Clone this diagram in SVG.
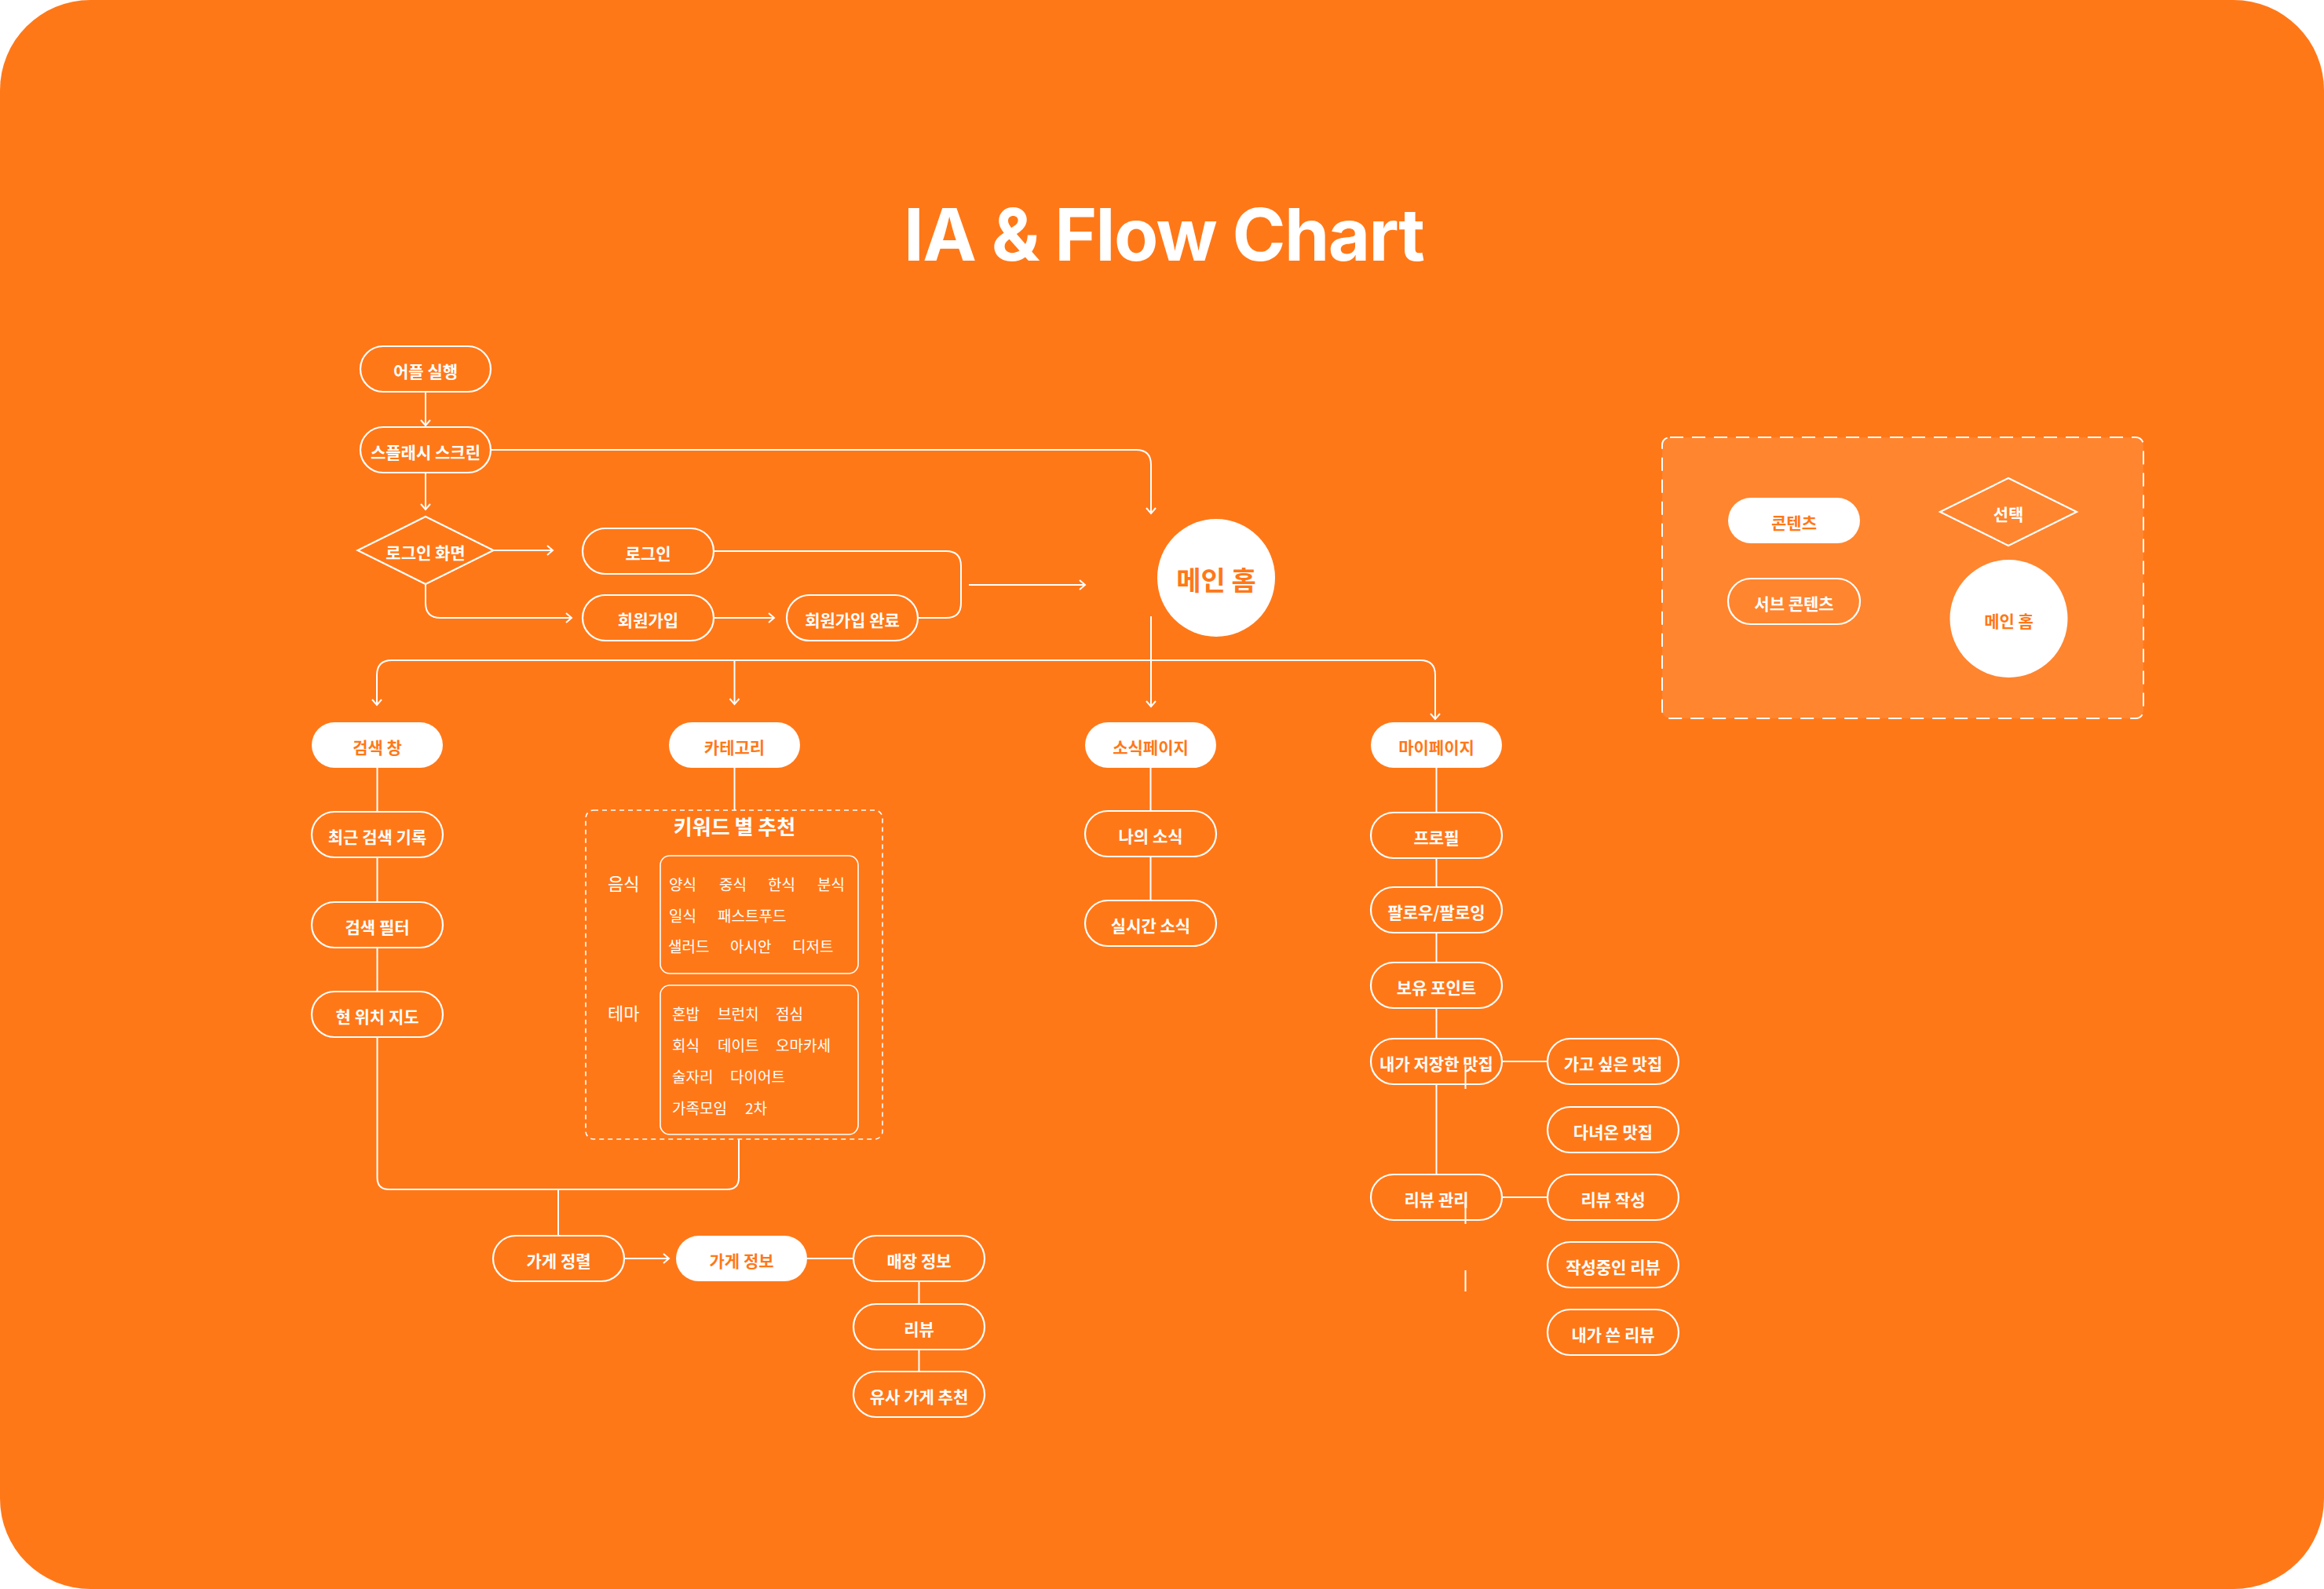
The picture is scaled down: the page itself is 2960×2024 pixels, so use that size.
<svg xmlns="http://www.w3.org/2000/svg" width="2960" height="2024" viewBox="0 0 2960 2024">
<defs>
<marker id="arr" markerUnits="userSpaceOnUse" markerWidth="20" markerHeight="20" viewBox="-10 -10 20 20" refX="0" refY="0" orient="auto">
<path d="M-7,-6 L0,0 L-7,6" fill="none" stroke="#fff" stroke-width="2"/>
</marker>
</defs>
<style>
.bg{fill:#FF7818}
.n{fill:none;stroke:#fff;stroke-width:2.2}
.f{fill:#fff;stroke:none}
.c{fill:none;stroke:#fff;stroke-width:2}
.t{font-family:"Noto Sans CJK KR","Noto Sans",sans-serif;font-weight:700;font-size:21px;fill:#fff;text-anchor:middle;dominant-baseline:central;transform:translateY(2px)}
.to{fill:#FF7818}
.k{font-family:"Noto Sans CJK KR","Noto Sans",sans-serif;font-weight:400;font-size:19px;fill:#fff;dominant-baseline:central}
.kl{font-size:22px}
</style>
<rect width="2960" height="2024" fill="#fff"/>
<rect class="bg" x="0" y="0" width="2960" height="2024" rx="115"/>
<text x="1483" y="332" font-family="Inter,'Liberation Sans',sans-serif" font-weight="700" font-size="92" fill="#fff" text-anchor="middle" textLength="664" lengthAdjust="spacing">IA &amp; Flow Chart</text>

<g id="connectors">
<path class="c" d="M542,499 V542" marker-end="url(#arr)"/>
<path class="c" d="M626,573 H1447 Q1466,573 1466,592 V654" marker-end="url(#arr)"/>
<path class="c" d="M542,602 V649" marker-end="url(#arr)"/>
<path class="c" d="M628.5,701 H704" marker-end="url(#arr)"/>
<path class="c" d="M542,744 V768 Q542,787 561,787 H728" marker-end="url(#arr)"/>
<path class="c" d="M909,787 H986" marker-end="url(#arr)"/>
<path class="c" d="M909,702 H1205 Q1224,702 1224,721 V768 Q1224,787 1205,787 H1169"/>
<path class="c" d="M1234,745 H1382" marker-end="url(#arr)"/>
<path class="c" d="M1466,785 V900" marker-end="url(#arr)"/>
<path class="c" d="M936,841 H499 Q480,841 480,860 V898" marker-end="url(#arr)"/>
<path class="c" d="M935.5,841 V897" marker-end="url(#arr)"/>
<path class="c" d="M935,841 H1809 Q1828,841 1828,860 V916" marker-end="url(#arr)"/>
<path class="c" d="M480.5,978 V1034 M480.5,1092 V1149 M480.5,1207 V1263"/>
<path class="c" d="M480.5,1321 V1500 Q480.5,1515 495.5,1515 H926 Q941,1515 941,1500 V1451"/>
<path class="c" d="M935.5,978 V1032"/>
<path class="c" d="M711,1515 V1574"/>
<path class="c" d="M795,1603 H852" marker-end="url(#arr)"/>
<path class="c" d="M1028,1603 H1087"/>
<path class="c" d="M1170.5,1632 V1661 M1170.5,1719 V1747"/>
<path class="c" d="M1465.5,978 V1033 M1465.5,1091 V1147"/>
<path class="c" d="M1829.5,978 V1035 M1829.5,1093 V1130 M1829.5,1188 V1226 M1829.5,1284 V1323 M1829.5,1381 V1496"/>
<path class="c" d="M1913,1352 H1971 M1913,1525 H1971"/>
</g>
<g id="marks">
<path class="c" d="M1866.5,1357 V1387 M1866.5,1532 V1559 M1866.5,1618 V1645"/>
</g>

<g id="app"><rect class="n" x="459" y="441" width="166" height="58" rx="29"/><text class="t" x="542" y="470">어플 실행</text></g>
<g id="splash"><rect class="n" x="459" y="544" width="166" height="58" rx="29"/><text class="t" x="542" y="573">스플래시 스크린</text></g>
<g id="loginScreen"><polygon class="n" points="542,658 628.5,701 542,744 455.5,701"/><text class="t" x="542" y="701">로그인 화면</text></g>
<g id="login"><rect class="n" x="742" y="673" width="167" height="58" rx="29"/><text class="t" x="825.5" y="702">로그인</text></g>
<g id="signup"><rect class="n" x="742" y="758" width="167" height="58" rx="29"/><text class="t" x="825.5" y="787">회원가입</text></g>
<g id="signupDone"><rect class="n" x="1002" y="758" width="167" height="58" rx="29"/><text class="t" x="1085.5" y="787">회원가입 완료</text></g>
<g id="mainHome"><circle class="f" cx="1549" cy="736" r="75"/><text class="t to" x="1549" y="735" style="font-size:34px">메인 홈</text></g>

<g id="search"><rect class="f" x="397" y="920" width="167" height="58" rx="29"/><text class="t to" x="480.5" y="949">검색 창</text></g>
<g id="recent"><rect class="n" x="397" y="1034" width="167" height="58" rx="29"/><text class="t" x="480.5" y="1063">최근 검색 기록</text></g>
<g id="filter"><rect class="n" x="397" y="1149" width="167" height="58" rx="29"/><text class="t" x="480.5" y="1178">검색 필터</text></g>
<g id="map"><rect class="n" x="397" y="1263" width="167" height="58" rx="29"/><text class="t" x="480.5" y="1292">현 위치 지도</text></g>

<g id="category"><rect class="f" x="852" y="920" width="167" height="58" rx="29"/><text class="t to" x="935.5" y="949">카테고리</text></g>
<g id="keyword">
<rect x="746" y="1032" width="378" height="419" rx="10" fill="none" stroke="#fff" stroke-width="1.6" stroke-dasharray="6 5"/>
<text class="t" x="935.5" y="1049" style="font-size:26px">키워드 별 추천</text>
<text class="k kl" x="774" y="1124">음식</text>
<rect x="841" y="1090" width="252" height="150" rx="12" fill="none" stroke="#fff" stroke-width="1.6"/>
<text class="k" x="852" y="1125">양식</text><text class="k" x="916" y="1125">중식</text><text class="k" x="978" y="1125">한식</text><text class="k" x="1041" y="1125">분식</text>
<text class="k" x="852" y="1165">일식</text><text class="k" x="914" y="1165">패스트푸드</text>
<text class="k" x="851" y="1204">샐러드</text><text class="k" x="930" y="1204">아시안</text><text class="k" x="1009" y="1204">디저트</text>
<text class="k kl" x="774" y="1289">테마</text>
<rect x="841" y="1255" width="252" height="190" rx="12" fill="none" stroke="#fff" stroke-width="1.6"/>
<text class="k" x="856" y="1290">혼밥</text><text class="k" x="914" y="1290">브런치</text><text class="k" x="988" y="1290">점심</text>
<text class="k" x="856" y="1330">회식</text><text class="k" x="914" y="1330">데이트</text><text class="k" x="988" y="1330">오마카세</text>
<text class="k" x="856" y="1370">술자리</text><text class="k" x="930" y="1370">다이어트</text>
<text class="k" x="856" y="1410">가족모임</text><text class="k" x="949" y="1410">2차</text>
</g>

<g id="news"><rect class="f" x="1382" y="920" width="167" height="58" rx="29"/><text class="t to" x="1465.5" y="949">소식페이지</text></g>
<g id="myNews"><rect class="n" x="1382" y="1033" width="167" height="58" rx="29"/><text class="t" x="1465.5" y="1062">나의 소식</text></g>
<g id="realtime"><rect class="n" x="1382" y="1147" width="167" height="58" rx="29"/><text class="t" x="1465.5" y="1176">실시간 소식</text></g>

<g id="mypage"><rect class="f" x="1746" y="920" width="167" height="58" rx="29"/><text class="t to" x="1829.5" y="949">마이페이지</text></g>
<g id="profile"><rect class="n" x="1746" y="1035" width="167" height="58" rx="29"/><text class="t" x="1829.5" y="1064">프로필</text></g>
<g id="follow"><rect class="n" x="1746" y="1130" width="167" height="58" rx="29"/><text class="t" x="1829.5" y="1159">팔로우/팔로잉</text></g>
<g id="points"><rect class="n" x="1746" y="1226" width="167" height="58" rx="29"/><text class="t" x="1829.5" y="1255">보유 포인트</text></g>
<g id="saved"><rect class="n" x="1746" y="1323" width="167" height="58" rx="29"/><text class="t" x="1829.5" y="1352">내가 저장한 맛집</text></g>
<g id="reviewMgmt"><rect class="n" x="1746" y="1496" width="167" height="58" rx="29"/><text class="t" x="1829.5" y="1525">리뷰 관리</text></g>
<g id="wantGo"><rect class="n" x="1971" y="1323" width="167" height="58" rx="29"/><text class="t" x="2054.5" y="1352">가고 싶은 맛집</text></g>
<g id="visited"><rect class="n" x="1971" y="1410" width="167" height="58" rx="29"/><text class="t" x="2054.5" y="1439">다녀온 맛집</text></g>
<g id="writeReview"><rect class="n" x="1971" y="1496" width="167" height="58" rx="29"/><text class="t" x="2054.5" y="1525">리뷰 작성</text></g>
<g id="draftReview"><rect class="n" x="1971" y="1582" width="167" height="58" rx="29"/><text class="t" x="2054.5" y="1611">작성중인 리뷰</text></g>
<g id="myReviews"><rect class="n" x="1971" y="1668" width="167" height="58" rx="29"/><text class="t" x="2054.5" y="1697">내가 쓴 리뷰</text></g>

<g id="sort"><rect class="n" x="628" y="1574" width="167" height="58" rx="29"/><text class="t" x="711.5" y="1603">가게 정렬</text></g>
<g id="storeInfo"><rect class="f" x="861" y="1574" width="167" height="58" rx="29"/><text class="t to" x="944.5" y="1603">가게 정보</text></g>
<g id="shopInfo"><rect class="n" x="1087" y="1574" width="167" height="58" rx="29"/><text class="t" x="1170.5" y="1603">매장 정보</text></g>
<g id="review"><rect class="n" x="1087" y="1661" width="167" height="58" rx="29"/><text class="t" x="1170.5" y="1690">리뷰</text></g>
<g id="similar"><rect class="n" x="1087" y="1747" width="167" height="58" rx="29"/><text class="t" x="1170.5" y="1776">유사 가게 추천</text></g>

<g id="legend">
<rect x="2117" y="557" width="613" height="358" rx="10" fill="#fff" fill-opacity="0.1" stroke="#fff" stroke-width="2" stroke-dasharray="17 11"/>
<g id="legendContent"><rect class="f" x="2201" y="634" width="168" height="58" rx="29"/><text class="t to" x="2285" y="663">콘텐츠</text></g>
<g id="legendSub"><rect class="n" x="2201" y="737" width="168" height="58" rx="29"/><text class="t" x="2285" y="766">서브 콘텐츠</text></g>
<g id="legendChoice"><polygon class="n" points="2558,609 2645,652 2558,695 2471,652"/><text class="t" x="2558" y="652">선택</text></g>
<g id="legendMain"><circle class="f" cx="2558.5" cy="788" r="75"/><text class="t to" x="2558.5" y="788">메인 홈</text></g>
</g>
</svg>
